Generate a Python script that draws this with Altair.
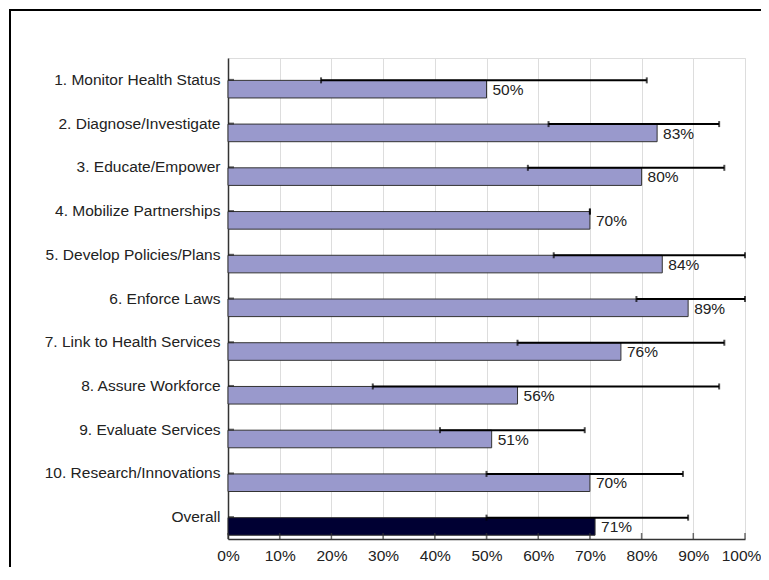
import altair as alt
import pandas as pd

categories = ["1. Monitor Health Status", "2. Diagnose/Investigate", "3. Educate/Empower",
              "4. Mobilize Partnerships", "5. Develop Policies/Plans", "6. Enforce Laws",
              "7. Link to Health Services", "8. Assure Workforce", "9. Evaluate Services",
              "10. Research/Innovations", "Overall"]
scores = [50, 83, 80, 70, 84, 89, 76, 56, 51, 70, 71]
low = [18, 62, 58, 70, 63, 79, 56, 28, 41, 50, 50]
high = [81, 95, 96, 70, 100, 100, 96, 95, 69, 88, 89]
x_ticks = [0, 10, 20, 30, 40, 50, 60, 70, 80, 90, 100]

df = pd.DataFrame({
    "cat": categories,
    "score": scores,
    "low": low,
    "high": high,
    "kind": ["item"] * 10 + ["overall"],
    "label": [f"{v}%" for v in scores],
})
ticks_df = pd.DataFrame({"t": x_ticks})

W, H = 517, 481
FONT = "Liberation Sans"

y_enc = alt.Y("cat:N", sort=categories,
              scale=alt.Scale(domain=categories, paddingInner=0, paddingOuter=0),
              axis=alt.Axis(title=None, ticks=False, labelPadding=8, labelFontSize=15.5,
                            labelFont=FONT, labelColor="#222", domainColor="#333",
                            domainWidth=1.5, grid=False, labelLimit=300))
x_scale = alt.Scale(domain=[0, 100], nice=False, zero=True)

base = alt.Chart(df)

bars = base.mark_bar(height=17.6, yOffset=9.3, stroke="#333", strokeWidth=1).encode(
    x=alt.X("score:Q", scale=x_scale,
            axis=alt.Axis(title=None, values=x_ticks, labelExpr="datum.value + '%'",
                          ticks=False, labelPadding=9, labelFontSize=15.5, labelFont=FONT,
                          labelColor="#222", domainColor="#333", domainWidth=1.5,
                          labelOverlap=False, labelFlush=False,
                          labelOffset={"condition": {"test": "datum.value == 100", "value": -4},
                                       "value": 0},
                          grid=True, gridColor="#dddddd", gridWidth=1)),
    y=y_enc,
    color=alt.Color("kind:N", scale=alt.Scale(domain=["item", "overall"],
                                              range=["#9999cc", "#000033"]), legend=None),
)

err = base.mark_rule(color="black", strokeWidth=2, yOffset=0.5).encode(
    x=alt.X("low:Q", scale=x_scale), x2="high:Q", y=alt.Y("cat:N", sort=categories))
cap_lo = base.mark_tick(color="black", size=6, thickness=2, orient="vertical", yOffset=0.5).encode(
    x=alt.X("low:Q", scale=x_scale), y=alt.Y("cat:N", sort=categories))
cap_hi = base.mark_tick(color="black", size=6, thickness=2, orient="vertical", yOffset=0.5).encode(
    x=alt.X("high:Q", scale=x_scale), y=alt.Y("cat:N", sort=categories))

ytick = base.mark_tick(color="#222", size=6, thickness=2, orient="horizontal", xOffset=3).encode(
    x=alt.value(0), y=alt.Y("cat:N", sort=categories))

labels = base.mark_text(align="left", baseline="middle", dx=6, dy=10, fontSize=15.5,
                        font=FONT, color="#222").encode(
    x=alt.X("score:Q", scale=x_scale), y=alt.Y("cat:N", sort=categories), text="label:N")

xtick = alt.Chart(ticks_df).mark_tick(color="#333", size=6, thickness=1.5, orient="vertical").encode(
    x=alt.X("t:Q", scale=x_scale), y=alt.value(H - 3))

frame_top = alt.Chart(ticks_df).mark_rule(color="black", strokeWidth=2).encode(
    x=alt.value(-219), x2=alt.value(560), y=alt.value(-48))
frame_left = alt.Chart(ticks_df).mark_rule(color="black", strokeWidth=2).encode(
    x=alt.value(-218), y=alt.value(-49), y2=alt.value(560))

chart = alt.layer(frame_top, frame_left, bars, err, cap_lo, cap_hi, ytick, labels, xtick).properties(
    width=W, height=H,
    autosize=alt.AutoSizeParams(type="none"),
    padding={"left": 220, "top": 50, "right": 16, "bottom": 28},
).configure_view(stroke=None).configure(background="white")

chart.save("out.html", embed_options={"renderer": "svg", "actions": False})
